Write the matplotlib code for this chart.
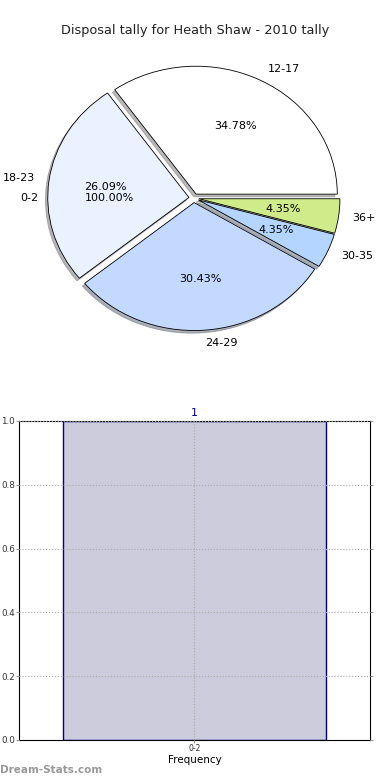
import matplotlib
matplotlib.use("Agg")
import matplotlib.pyplot as plt

# disposal tallies per group
groups = ["12-17", "18-23", "24-29", "30-35", "36+"]
counts = [8, 6, 7, 1, 1]
colors = ["#ffffff", "#eaf1ff", "#c4d9ff", "#b3d5ff", "#cfeb8a"]
explode = [0.035, 0.035, 0.035, 0.035, 0.035]

# the stray one-slice pie
extra_labels = ["0-2"]
extra_counts = [1]

# frequency bar
bar_cats = ["0-2"]
bar_freq = [1]

fig = plt.figure(figsize=(3.9, 7.8), dpi=100)

ax = fig.add_axes([0.0445, 0.541, 0.905, 0.410])
w, t, at = ax.pie(extra_counts, labels=extra_labels, autopct="%.2f%%",
                  textprops={"fontsize": 8})
for wedge in w:
    wedge.set_visible(False)
ax.pie(counts, labels=groups, colors=colors, explode=explode,
       shadow={"ox": -0.012, "oy": -0.015, "shade": 0.55},
       autopct="%.2f%%", wedgeprops={"edgecolor": "black", "linewidth": 0.6},
       textprops={"fontsize": 8})
ax.set_aspect("auto")
ax.set_xlim(-1.25, 1.25)
ax.set_ylim(-1.25, 1.25)
ax.axis("off")
fig.text(0.5, 0.961, "Disposal tally for Heath Shaw - 2010 tally",
         ha="center", va="center", fontsize=9.3, color="#222222")

bx = fig.add_axes([0.0487, 0.0513, 0.900, 0.409])
x = list(range(len(bar_cats)))
bx.bar(x, bar_freq, width=0.75, color="#ccccdd", edgecolor="#000080", linewidth=1)
for xi, v in zip(x, bar_freq):
    bx.text(xi, v + 0.01, str(v), ha="center", va="bottom", color="#000080", fontsize=8)
bx.set_xlim(-0.5, 0.5)
bx.set_ylim(0, 1)
bx.set_xticks(x)
bx.set_xticklabels(bar_cats)
bx.set_yticks([0, 0.2, 0.4, 0.6, 0.8, 1.0])
bx.set_yticklabels(["0.0", "0.2", "0.4", "0.6", "0.8", "1.0"])
bx.tick_params(axis="y", labelsize=6.3, length=2, pad=1, direction="out",
               color="#999999", labelcolor="#333333", right=True)
bx.tick_params(axis="x", labelsize=5.5, length=2, pad=1, direction="out",
               color="#999999", labelcolor="#333333")
bx.grid(True, linestyle=":", color="#aaaaaa", linewidth=0.8)
bx.set_axisbelow(False)
bx.set_xlabel("Frequency", fontsize=7.5, labelpad=1)
for s in bx.spines.values():
    s.set_linewidth(0.8)

fig.text(0.0, 0.013, "Dream-Stats.com", fontsize=7.5, color="#999999",
         fontweight="bold", ha="left", va="center")

fig.savefig("out.png", dpi=100)
